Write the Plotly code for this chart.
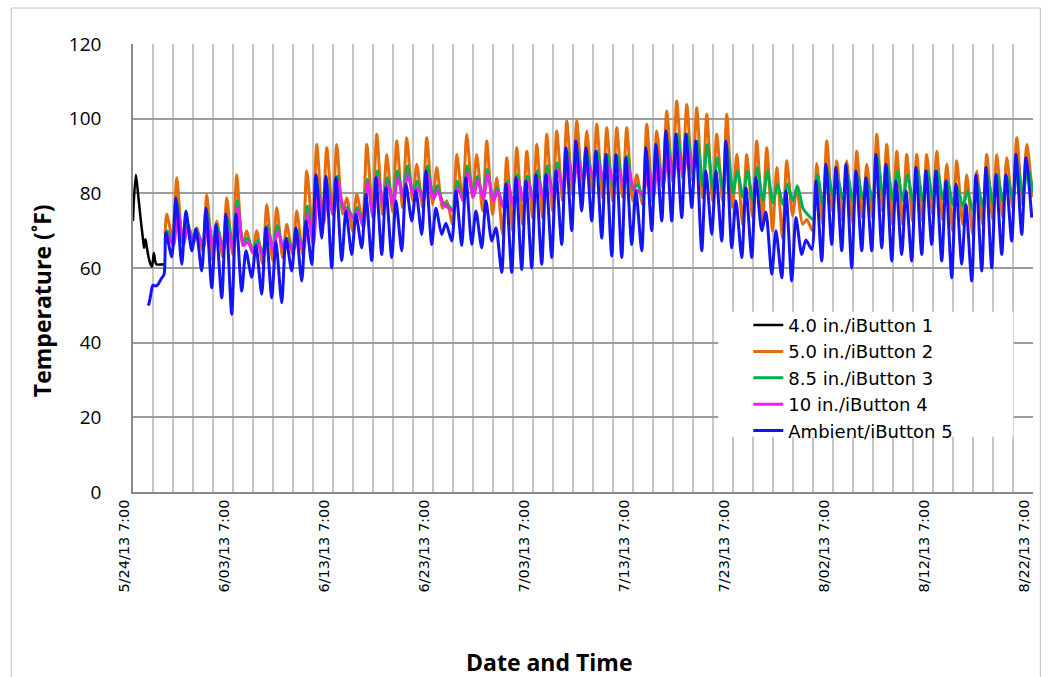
import pandas as pd
import plotly.graph_objects as go

# ---------------- data ----------------
START = pd.Timestamp("2013-05-24 07:00")

tick_days = [0, 10, 20, 30, 40, 50, 60, 70, 80, 90]
tick_labels = ["5/24/13 7:00", "6/03/13 7:00", "6/13/13 7:00", "6/23/13 7:00",
               "7/03/13 7:00", "7/13/13 7:00", "7/23/13 7:00", "8/02/13 7:00",
               "8/12/13 7:00", "8/22/13 7:00"]

series_names = ["4.0 in./iButton 1", "5.0 in./iButton 2", "8.5 in./iButton 3",
                "10 in./iButton 4", "Ambient/iButton 5"]

# iButton 1 (4.0 in.): readings, hours after start
black_hours = [0, 2, 7, 12, 17.5, 24, 26.5, 30, 32.5, 37.5, 42, 45.5, 50, 53, 56, 74]
black_vals = [72.6, 78, 85, 80, 74, 67.7, 65.4, 67.7, 66, 62.8, 61, 60.3, 64, 62, 61, 61]

# Ambient start-up readings, hours after start
blue_start_hours = [36, 38.5, 42, 45.5, 48, 55, 60, 67, 74.5]
blue_start_vals = [50, 50.5, 52.5, 54.7, 55.4, 55.2, 55.6, 57, 58.3]

# first daily cycle index (days after start)
FIRST_DAY = 3

# Ambient / iButton 5 daily highs and lows (day 3 .. day 89)
blue_hi = [69.5, 78.8, 75.3, 70.5, 76, 71.7, 74.4, 74.4, 64.6, 66,
           70.8, 67, 68, 70.8, 72.6, 85, 84.6, 84.2, 75.3, 74.4,
           79.7, 84.2, 81.5, 78, 82.4, 80.6, 86, 76, 72, 80.6,
           84.2, 75.3, 78, 70.8, 82.4, 84.2, 83.3, 85, 85, 86,
           92.2, 94, 92.2, 91.3, 90.4, 90.4, 89.5, 80.6, 92.2, 93.1,
           96.7, 95.8, 95.8, 94, 86, 86, 94, 78, 81.5, 84.2,
           75, 70, 80.6, 73.5, 67.5, 83.3, 87.8, 86.9, 87.8, 86,
           84.2, 90.4, 87.8, 83.3, 80.6, 86.9, 86, 86, 83.3, 82.4,
           77, 85, 86.9, 85, 85, 90.4, 89.5]
blue_lo = [63, 61, 64.6, 59.2, 54.7, 52, 47.6, 53.8, 57.5, 53,
           52, 50.7, 59.2, 56.5, 61, 68, 60, 62, 63.6, 65.4,
           62, 63.6, 62.8, 64.6, 72.6, 69, 66.3, 69, 67.2, 66,
           66.3, 65.4, 67.2, 58.8, 58.8, 59.6, 60, 61, 62.8, 66.3,
           70, 75.3, 72.6, 68, 63.2, 62.8, 66.3, 64.6, 70, 72.6,
           72.6, 73.5, 76.2, 64.6, 69, 67.2, 65.4, 62.8, 62.8, 70,
           58.3, 57.4, 56.5, 63.6, 65, 61.9, 66.3, 64.6, 60, 64.6,
           64.6, 65.4, 61.9, 63.6, 61.9, 63.6, 66.3, 61.9, 57.4, 61,
           56.5, 59.2, 60, 63.6, 67.2, 69, 73.5]

# 5.0 in. / iButton 2 daily highs and lows (day 3 .. day 89)
orange_first = 69
orange_hi = [74.4, 84.2, 72, 70.8, 79.7, 72.6, 78.8, 85, 70, 70,
             77, 76.2, 71.7, 75.3, 86, 93.1, 92.2, 93.1, 78.8, 79.7,
             93.1, 95.8, 90.4, 94, 94.9, 87.8, 94.9, 86.9, 78, 90.4,
             95.8, 90.4, 94, 84.2, 89.5, 92.2, 91.3, 93.1, 95.8, 96.7,
             99.4, 99.4, 96.7, 98.5, 97.6, 97.6, 97.6, 85, 98.5, 96.7,
             102, 104.7, 103.8, 102.9, 101.2, 95.8, 101.2, 90.4, 90.4, 94,
             92.2, 86.9, 88.7, 81.5, 73, 88, 94, 88.7, 88.7, 91.3,
             87.8, 95.8, 93.1, 91.3, 90.4, 90.4, 90.4, 91.3, 87.8, 88.7,
             85, 86, 90.4, 90.4, 89.5, 94.9, 93.1]
orange_lo = [68, 67, 66, 64.6, 62, 63, 63.6, 66, 64, 61,
             62, 62.8, 63.6, 63.6, 70.8, 72.6, 74.4, 74.4, 70, 72.6,
             75.3, 74.4, 75, 76.2, 78, 76.2, 77, 76, 71.7, 78,
             78.8, 75.3, 74.4, 69, 70, 71.7, 73.5, 73.5, 75.3, 78,
             79.7, 80.6, 80, 78.8, 78, 79, 78, 77, 78, 81.5,
             83.3, 84.2, 83.5, 78.8, 78, 78, 76.2, 71.7, 73.5, 72.6,
             70, 68, 74, 71.7, 70, 71.7, 75.3, 72.6, 72, 73.5,
             73.5, 75.3, 71.7, 71.7, 72.6, 72.6, 74.4, 73, 70, 71.7,
             69, 71.7, 73, 73.5, 76.2, 77, 79]

# 8.5 in. / iButton 3 daily highs and lows (day 3 .. day 89)
green_first = 67.5
green_hi = [70, 77, 72, 69.5, 74.4, 71, 73, 78, 68, 67.5,
            71.3, 71.3, 68, 70, 76.6, 82.4, 82.4, 84.6, 76.2, 76.2,
            83.8, 86, 84.2, 86, 87.3, 83.3, 87.3, 82, 77, 83.3,
            87.3, 84.6, 86.4, 81.5, 83.3, 85, 84.6, 86, 87.3, 88.2,
            91.3, 91.3, 90, 91.3, 90.4, 90, 90, 82.4, 89, 89.5,
            94, 95.8, 95.8, 94, 93.1, 89.5, 92.2, 86, 86, 86.9,
            86, 82.4, 82.4, 82, 74.4, 85, 86, 84.2, 85, 85,
            83.3, 89.5, 86.9, 86, 85, 86, 86, 86, 83.3, 81.5,
            80.6, 82.4, 85, 85, 84.2, 87.8, 86.9]
green_lo = [67, 67, 68, 66, 66, 65.5, 66, 67, 64.6, 64,
            65, 65.5, 65, 65.5, 68, 72, 74.4, 76, 73.5, 71.5,
            73.5, 77, 77.5, 79, 80, 78.5, 79.5, 77.5, 75.5, 78.5,
            80, 79, 78.5, 76.5, 77, 78, 78.5, 79, 79.5, 81,
            83, 84.5, 84, 83, 82, 82, 81, 79, 80, 83,
            85, 85.5, 85.5, 82, 81, 81, 80, 79, 78, 78,
            77.5, 77, 78, 76, 73, 77, 79.5, 78.5, 78, 78.5,
            78, 79.5, 78, 78, 78, 78, 78.5, 78.5, 77, 76.5,
            75.3, 76.5, 77.5, 78, 78.5, 79.5, 80.6]

# 10 in. / iButton 4 daily highs and lows (day 3 .. day 55)
magenta_first = 66.5
magenta_hi = [69, 75.3, 71, 69, 72.6, 69.5, 70.5, 76.2, 67, 66.5,
              70, 70, 66.8, 69, 74.4, 80.6, 80.6, 83.3, 75.3, 75.3,
              82.9, 84.2, 82.5, 84.2, 85, 81.5, 85, 80.6, 76.2, 81.5,
              85.4, 83.5, 85, 80.6, 82.5, 83.5, 83.3, 84, 85, 86.4,
              89.5, 89.3, 88.2, 88.5, 87.8, 87.3, 87.3, 80.6, 87.3, 88.2,
              91.3, 92, 92]
magenta_lo = [66, 66, 67, 65.4, 65, 64.6, 65, 66, 64, 63,
              64.6, 65.4, 64.6, 64.6, 66.3, 71.7, 74.4, 76.2, 73.5, 70.8,
              73.5, 77, 77, 78.8, 79.7, 78, 78.5, 77, 75.3, 78,
              79, 78.5, 78, 76.2, 76.5, 78, 78, 78.5, 79, 80.6,
              82.4, 83.5, 84.2, 83.5, 83, 82, 81.5, 80, 79, 82.4,
              84, 85, 86]

# typical hour (after 7:00) of daily high / low for each sensor
HOUR_HI = {"blue": 7, "orange": 9, "green": 10.5, "magenta": 11.5}
HOUR_LO = {"blue": 21, "orange": 23, "green": 24, "magenta": 25}
FIRST_HOUR = 77  # first reading of buried sensors


def at_hours(hours):
    return [START + pd.Timedelta(hours=h) for h in hours]


def daily(hi, lo, key, first_val=None):
    xs, ys = [], []
    if first_val is not None:
        xs.append(START + pd.Timedelta(hours=FIRST_HOUR))
        ys.append(first_val)
    for i, (h, l) in enumerate(zip(hi, lo)):
        day = FIRST_DAY + i
        xs.append(START + pd.Timedelta(days=day, hours=HOUR_HI[key]))
        ys.append(h)
        xs.append(START + pd.Timedelta(days=day, hours=HOUR_LO[key]))
        ys.append(l)
    return xs, ys


colors = ["#000000", "#E46C0A", "#00B050", "#F21BF2", "#1414F5"]

fig = go.Figure()

bx, by = at_hours(black_hours), black_vals
ox, oy = daily(orange_hi, orange_lo, "orange", orange_first)
gx, gy = daily(green_hi, green_lo, "green", green_first)
mx, my = daily(magenta_hi, magenta_lo, "magenta", magenta_first)
ux, uy = daily(blue_hi, blue_lo, "blue")
ux = at_hours(blue_start_hours) + ux
uy = blue_start_vals + uy

traces = [(bx, by), (ox, oy), (gx, gy), (mx, my), (ux, uy)]
widths = [2.5, 3, 3, 3, 3]
for (xs, ys), name, c, w in zip(traces, series_names, colors, widths):
    fig.add_trace(go.Scatter(
        x=xs, y=ys, mode="lines", name=name,
        line=dict(color=c, width=w, shape="spline", smoothing=0.7),
    ))

tick_vals = [START + pd.Timedelta(days=d) for d in tick_days]

# page pixels (body margin removed by the post script below)
W, H = 1050, 677
L, R, T, B = 132.7, 1032.7, 44, 492.3


def px_x(p):
    return (p - L) / (R - L)


def px_y(p):
    return (B - p) / (B - T)


fig.update_layout(
    width=W, height=H,
    margin=dict(l=L, r=W - R, t=T, b=H - B),
    paper_bgcolor="white", plot_bgcolor="white",
    font=dict(family="Open Sans, sans-serif", color="black"),
    showlegend=True,
    legend=dict(
        x=px_x(748), y=px_y(307), xanchor="left", yanchor="top",
        bgcolor="rgba(0,0,0,0)", borderwidth=0,
        font=dict(size=18, family="DejaVu Sans, sans-serif", color="black"),
        itemwidth=30, tracegroupgap=0,
    ),
    xaxis=dict(
        type="date",
        range=[START, START + pd.Timedelta(days=90)],
        tickmode="array", tickvals=tick_vals, ticktext=tick_labels,
        tickangle=-90, ticks="", ticklabelshift=-9,
        tickfont=dict(size=14.5, family="DejaVu Sans, sans-serif", color="black"),
        showgrid=True, gridcolor="#c6c6c6", gridwidth=1.5,
        minor=dict(dtick=2 * 86400000, tick0=START, showgrid=True,
                   gridcolor="#c6c6c6", gridwidth=1.5, ticks=""),
        showline=True, linecolor="#8a8a8a", linewidth=1.5,
        zeroline=False,
    ),
    yaxis=dict(
        range=[0, 120], tickmode="array", tickvals=[0, 20, 40, 60, 80, 100, 120],
        ticks="", ticklabelstandoff=26,
        tickfont=dict(size=19, family="Open Sans, sans-serif", color="black"),
        showgrid=True, gridcolor="#9c9c9c", gridwidth=1.5,
        showline=True, linecolor="#8a8a8a", linewidth=1.5,
        zeroline=False,
    ),
    shapes=[
        # white legend box
        dict(type="rect", xref="paper", yref="paper",
             x0=px_x(718), x1=px_x(1013), y0=px_y(437), y1=px_y(312),
             fillcolor="white", line=dict(width=0), layer="above"),
        # outer chart border
        dict(type="rect", xref="paper", yref="paper",
             x0=px_x(11), x1=px_x(1040), y0=px_y(720), y1=px_y(8),
             fillcolor="rgba(0,0,0,0)", line=dict(color="#c0c0c0", width=1),
             layer="below"),
    ],
    annotations=[
        dict(text="<b>Date and Time</b>", xref="paper", yref="paper",
             x=px_x(549), y=px_y(662), showarrow=False,
             xanchor="center", yanchor="middle",
             font=dict(size=23, family="Open Sans, sans-serif", color="black")),
        dict(text="<b>Temperature (˚F)</b>", xref="paper", yref="paper",
             x=px_x(42), y=px_y(301), showarrow=False, textangle=-90,
             xanchor="center", yanchor="middle",
             font=dict(size=23, family="Open Sans, sans-serif", color="black")),
    ],
)

fig.write_html("out.html",
               config={"displayModeBar": False},
               post_script="document.body.style.margin='0px';"
                           "document.body.style.overflow='hidden';")
